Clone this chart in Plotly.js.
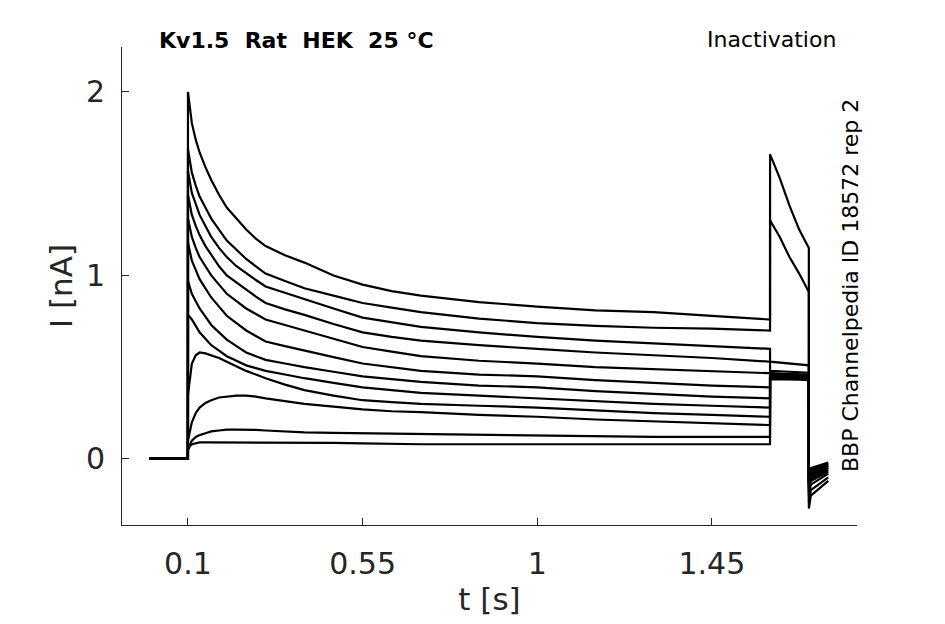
<!DOCTYPE html>
<html>
<head>
<meta charset="utf-8">
<script src="https://cdn.plot.ly/plotly-3.0.1.min.js"></script>
<style>
  html, body { margin: 0; padding: 0; background: #fff; }
  #chart { width: 945px; height: 624px; }
</style>
</head>
<body>
<div id="chart"></div>
<script>
// sample times [s], shared by all sweeps
var t = [0, 0.0999,
         0.1, 0.105, 0.11, 0.12, 0.13, 0.145, 0.16, 0.18, 0.2, 0.225, 0.25, 0.275, 0.3, 0.35, 0.4, 0.475, 0.55, 0.625, 0.7,
         0.85, 1.0, 1.15, 1.3, 1.45, 1.5999,
         1.6, 1.625, 1.65, 1.675, 1.6999,
         1.7, 1.705, 1.75];

// current [nA] of each sweep
var sweep1  = [0, 0,
  2.0, 1.91, 1.83, 1.74, 1.67, 1.59, 1.52, 1.44, 1.37, 1.31, 1.25, 1.20, 1.16, 1.11, 1.07, 1.00, 0.95, 0.915, 0.89,
  0.855, 0.83, 0.81, 0.80, 0.78, 0.76,  1.66, 1.53, 1.38, 1.25, 1.15,  -0.27, -0.20, -0.12];
var sweep2  = [0, 0,
  1.69, 1.62, 1.56, 1.49, 1.43, 1.37, 1.31, 1.25, 1.19, 1.14, 1.09, 1.05, 1.01, 0.97, 0.93, 0.89, 0.85, 0.825, 0.80,
  0.765, 0.74, 0.725, 0.715, 0.71, 0.70,  1.30, 1.21, 1.10, 1.01, 0.91,  -0.24, -0.17, -0.10];
var sweep3  = [0, 0,
  1.57, 1.51, 1.45, 1.39, 1.33, 1.27, 1.21, 1.15, 1.10, 1.05, 1.01, 0.975, 0.94, 0.905, 0.87, 0.82, 0.77, 0.745, 0.72,
  0.69, 0.665, 0.645, 0.63, 0.615, 0.60,  0.53, 0.525, 0.52, 0.515, 0.51,  -0.20, -0.14, -0.08];
var sweep4  = [0, 0,
  1.44, 1.38, 1.33, 1.27, 1.22, 1.16, 1.11, 1.05, 1.00, 0.96, 0.92, 0.885, 0.85, 0.815, 0.785, 0.735, 0.69, 0.665, 0.645,
  0.62, 0.60, 0.58, 0.565, 0.55, 0.53,  0.48, 0.478, 0.475, 0.472, 0.47,  -0.18, -0.12, -0.07];
var sweep5  = [0, 0,
  1.31, 1.26, 1.21, 1.15, 1.10, 1.05, 1.00, 0.95, 0.90, 0.86, 0.82, 0.79, 0.76, 0.73, 0.70, 0.655, 0.61, 0.585, 0.56,
  0.535, 0.52, 0.50, 0.49, 0.48, 0.47,  0.47, 0.468, 0.465, 0.462, 0.46,  -0.16, -0.11, -0.06];
var sweep6  = [0, 0,
  1.18, 1.13, 1.08, 1.03, 0.98, 0.93, 0.88, 0.83, 0.78, 0.74, 0.70, 0.67, 0.64, 0.615, 0.59, 0.555, 0.52, 0.50, 0.48,
  0.46, 0.45, 0.43, 0.415, 0.40, 0.39,  0.465, 0.462, 0.46, 0.457, 0.455,  -0.15, -0.10, -0.05];
var sweep7  = [0, 0,
  0.97, 0.935, 0.90, 0.86, 0.82, 0.775, 0.73, 0.69, 0.65, 0.615, 0.58, 0.56, 0.54, 0.52, 0.50, 0.475, 0.45, 0.435, 0.42,
  0.40, 0.39, 0.37, 0.355, 0.34, 0.33,  0.46, 0.457, 0.455, 0.452, 0.45,  -0.14, -0.09, -0.05];
var sweep8  = [0, 0,
  0.785, 0.775, 0.76, 0.725, 0.69, 0.655, 0.62, 0.59, 0.56, 0.535, 0.51, 0.495, 0.48, 0.46, 0.44, 0.415, 0.39, 0.375, 0.36,
  0.345, 0.33, 0.315, 0.30, 0.29, 0.28,  0.455, 0.452, 0.45, 0.447, 0.445,  -0.13, -0.08, -0.04];
var sweep9  = [0, 0,
  0.35, 0.45, 0.52, 0.565, 0.58, 0.575, 0.565, 0.55, 0.53, 0.505, 0.48, 0.46, 0.44, 0.405, 0.375, 0.345, 0.32, 0.31, 0.30,
  0.29, 0.28, 0.265, 0.25, 0.24, 0.23,  0.45, 0.447, 0.445, 0.442, 0.44,  -0.12, -0.07, -0.04];
var sweep10 = [0, 0,
  0.10, 0.15, 0.20, 0.25, 0.28, 0.305, 0.32, 0.335, 0.34, 0.345, 0.345, 0.34, 0.33, 0.315, 0.30, 0.285, 0.27, 0.26, 0.255,
  0.24, 0.23, 0.215, 0.205, 0.195, 0.185,  0.445, 0.443, 0.44, 0.44, 0.44,  -0.11, -0.06, -0.03];
var sweep11 = [0, 0,
  0.05, 0.08, 0.10, 0.12, 0.13, 0.14, 0.15, 0.155, 0.16, 0.16, 0.16, 0.158, 0.155, 0.15, 0.145, 0.142, 0.14, 0.137, 0.135,
  0.13, 0.125, 0.125, 0.12, 0.12, 0.12,  0.44, 0.44, 0.44, 0.437, 0.435,  -0.10, -0.06, -0.03];
var sweep12 = [0, 0,
  0.05, 0.07, 0.08, 0.085, 0.09, 0.09, 0.09, 0.09, 0.09, 0.09, 0.09, 0.09, 0.09, 0.09, 0.09, 0.088, 0.085, 0.082, 0.08,
  0.08, 0.08, 0.08, 0.08, 0.08, 0.08,  0.435, 0.435, 0.435, 0.432, 0.43,  -0.09, -0.05, -0.02];

var sweeps = [sweep1, sweep2, sweep3, sweep4, sweep5, sweep6,
              sweep7, sweep8, sweep9, sweep10, sweep11, sweep12];

var xTicks = [0.1, 0.55, 1, 1.45];
var xTickText = ['0.1', '0.55', '1', '1.45'];
var yTicks = [0, 1, 2];

var axisGrey = '#262626';
var fontFam = 'DejaVu Sans, sans-serif';

var data = sweeps.map(function (s) {
  return {
    x: t,
    y: s,
    type: 'scatter',
    mode: 'lines',
    line: {color: '#000', width: 2.2},
    hoverinfo: 'skip'
  };
});

var layout = {
  width: 945,
  height: 624,
  margin: {l: 122, r: 88, t: 47, b: 99},
  paper_bgcolor: '#fff',
  plot_bgcolor: '#fff',
  showlegend: false,
  font: {family: fontFam, color: axisGrey},
  xaxis: {
    range: [-0.07, 1.824],
    tickvals: xTicks,
    ticktext: xTickText,
    ticks: 'inside',
    ticklen: 7,
    tickcolor: axisGrey,
    tickfont: {size: 30, family: fontFam, color: axisGrey},
    ticklabelstandoff: 12,
    showline: true,
    linecolor: axisGrey,
    linewidth: 1,
    showgrid: false,
    zeroline: false,
    title: {text: 't [s]', font: {size: 31, family: fontFam, color: axisGrey}, standoff: 8}
  },
  yaxis: {
    range: [-0.36, 2.245],
    tickvals: yTicks,
    ticks: 'inside',
    ticklen: 7,
    tickcolor: axisGrey,
    tickfont: {size: 30, family: fontFam, color: axisGrey},
    ticklabelstandoff: 10,
    showline: true,
    linecolor: axisGrey,
    linewidth: 1,
    showgrid: false,
    zeroline: false,
    title: {text: 'I [nA]', font: {size: 31, family: fontFam, color: axisGrey}, standoff: 4}
  },
  annotations: [
    {
      text: '<b>Kv1.5\u00a0\u00a0Rat\u00a0\u00a0HEK\u00a0\u00a025\u00a0\u00b0C</b>',
      xref: 'paper', yref: 'paper', x: 0.2374, y: 1.0146,
      xanchor: 'center', yanchor: 'middle', showarrow: false,
      font: {size: 22, family: fontFam, color: '#000'}
    },
    {
      text: 'Inactivation',
      xref: 'paper', yref: 'paper', x: 0.974, y: 1.0167,
      xanchor: 'right', yanchor: 'middle', showarrow: false,
      font: {size: 22, family: fontFam, color: '#000'}
    },
    {
      text: 'BBP Channelpedia ID 18572 rep 2',
      xref: 'paper', yref: 'paper', x: 0.9905, y: 0.5,
      xanchor: 'center', yanchor: 'middle', textangle: -90, showarrow: false,
      font: {size: 22, family: fontFam, color: '#000'}
    }
  ]
};

Plotly.newPlot('chart', data, layout, {showLink: false, displayModeBar: false, staticPlot: true});
</script>
</body>
</html>
